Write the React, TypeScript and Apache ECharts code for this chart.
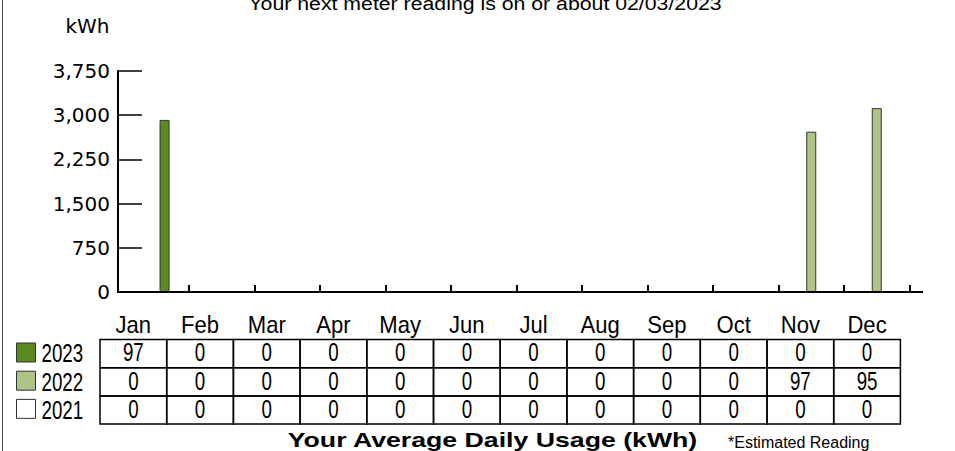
import React, { useEffect, useRef } from "react";
import * as echarts from "echarts";

// ---- data ----
const months = ["Jan", "Feb", "Mar", "Apr", "May", "Jun", "Jul", "Aug", "Sep", "Oct", "Nov", "Dec"];
const years = ["2023", "2022", "2021"];
// monthly kWh (bars)
const kwh2023 = [2920, 0, 0, 0, 0, 0, 0, 0, 0, 0, 0, 0];
const kwh2022 = [0, 0, 0, 0, 0, 0, 0, 0, 0, 0, 2720, 3120];
const kwh2021 = [0, 0, 0, 0, 0, 0, 0, 0, 0, 0, 0, 0];
// average daily usage (table)
const daily2023 = [97, 0, 0, 0, 0, 0, 0, 0, 0, 0, 0, 0];
const daily2022 = [0, 0, 0, 0, 0, 0, 0, 0, 0, 0, 97, 95];
const daily2021 = [0, 0, 0, 0, 0, 0, 0, 0, 0, 0, 0, 0];
const yMin = 0;
const yMax = 3750;
const yInterval = 750;
const titleText = "Your next meter reading is on or about 02/03/2023";
const unitText = "kWh";
const footerText = "Your Average Daily Usage (kWh)";
const noteText = "*Estimated Reading";

const yearColors = ["#5b8a1e", "#adc387", "#ffffff"];
const tableRows = [daily2023, daily2022, daily2021];

// ---- layout ----
const W = 955;
const H = 451;
const axisX = 118;
const axisEndX = 923;
const gridLeft = 123.5;
const gridRight = 909.5;
const gridTop = 71;
const gridBottom = 292;
const tableLeft = 100;
const colW = 66.7;
const tableTop = 339.5;
const rowH = 28.2;
const SANS = "'Liberation Sans', Arial, sans-serif";

function buildGraphics() {
  const els: any[] = [];
  // left border
  els.push({ type: "line", shape: { x1: 2.5, y1: 0, x2: 2.5, y2: H }, style: { stroke: "#444", lineWidth: 1 }, z: 10 });
  // title
  els.push({
    type: "text", x: 485, y: 3.9, scaleX: 1.12,
    style: { text: titleText, fontSize: 19, fontFamily: SANS, fill: "#000", align: "center", verticalAlign: "middle" },
  });
  // unit
  els.push({
    type: "text", x: 87.5, y: 25.5,
    style: { text: unitText, fontSize: 20, fontFamily: "'DejaVu Sans', sans-serif", fill: "#000", align: "center", verticalAlign: "middle" },
  });
  // x axis line
  els.push({
    type: "line", shape: { x1: axisX - 1, y1: gridBottom, x2: axisEndX, y2: gridBottom },
    style: { stroke: "#000", lineWidth: 2 }, z: 20,
  });
  // month headers
  months.forEach((m, c) => {
    els.push({
      type: "text", x: tableLeft + c * colW + colW / 2, y: 324.7, scaleX: 0.92,
      style: { text: m, fontSize: 24, fontFamily: SANS, fill: "#000", align: "center", verticalAlign: "middle" },
    });
  });
  // rows
  years.forEach((yr, r) => {
    const top = tableTop + r * rowH;
    els.push({
      type: "rect", shape: { x: 16.5, y: top + 3.5, width: 19, height: 19 },
      style: { fill: yearColors[r], stroke: "#333", lineWidth: 1 },
    });
    els.push({
      type: "text", x: 41.5, y: top + 14.5, scaleX: 0.75,
      style: { text: yr, fontSize: 25, fontFamily: SANS, fill: "#000", align: "left", verticalAlign: "middle" },
    });
    tableRows[r].forEach((v, c) => {
      const x = tableLeft + c * colW;
      els.push({
        type: "rect", shape: { x, y: top, width: colW, height: rowH },
        style: { fill: "none", stroke: "#000", lineWidth: 1.5 },
      });
      els.push({
        type: "text", x: x + colW / 2, y: top + 13.5, scaleX: 0.75,
        style: { text: String(v), fontSize: 25, fontFamily: SANS, fill: "#000", align: "center", verticalAlign: "middle" },
      });
    });
  });
  // footer
  els.push({
    type: "text", x: 492.5, y: 440, scaleX: 1.27,
    style: { text: footerText, fontSize: 21, fontWeight: "bold", fontFamily: SANS, fill: "#000", align: "center", verticalAlign: "middle" },
  });
  els.push({
    type: "text", x: 728, y: 442.5,
    style: { text: noteText, fontSize: 16, fontFamily: SANS, fill: "#000", align: "left", verticalAlign: "middle" },
  });
  return els;
}

export default function App() {
  const ref = useRef<HTMLDivElement>(null);
  useEffect(() => {
    if (!ref.current) return;
    const chart = echarts.init(ref.current, null, { renderer: "svg" });
    const barSeries = [
      { name: "2021", data: kwh2021, color: yearColors[2] },
      { name: "2022", data: kwh2022, color: yearColors[1] },
      { name: "2023", data: kwh2023, color: yearColors[0] },
    ].map((s) => ({
      type: "bar",
      name: s.name,
      data: s.data,
      barWidth: 10,
      barGap: "-17%",
      itemStyle: { color: s.color, borderColor: "#333", borderWidth: 1 },
    }));
    chart.setOption({
      animation: false,
      backgroundColor: "#fff",
      grid: { left: gridLeft, right: W - gridRight, top: gridTop, bottom: H - gridBottom, containLabel: false },
      xAxis: {
        type: "category",
        data: months,
        axisLine: { show: false },
        axisLabel: { show: false },
        axisTick: {
          show: true, inside: true, length: 7,
          interval: (index: number) => index !== 0,
          lineStyle: { color: "#000", width: 2 },
        },
        splitLine: { show: false },
      },
      yAxis: {
        type: "value",
        min: yMin,
        max: yMax,
        interval: yInterval,
        offset: gridLeft - axisX,
        axisLine: { show: true, lineStyle: { color: "#000", width: 2 } },
        axisTick: { show: true, inside: true, length: 24, lineStyle: { color: "#000", width: 1.5 } },
        axisLabel: {
          color: "#000", fontSize: 20, fontFamily: "'DejaVu Sans', sans-serif", margin: 8,
          formatter: (v: number) => v.toLocaleString("en-US"),
        },
        splitLine: { show: false },
      },
      series: barSeries,
      graphic: { elements: buildGraphics() },
    });
    return () => chart.dispose();
  }, []);
  return <div ref={ref} style={{ position: "absolute", left: 0, top: 0, width: W, height: H }} />;
}
